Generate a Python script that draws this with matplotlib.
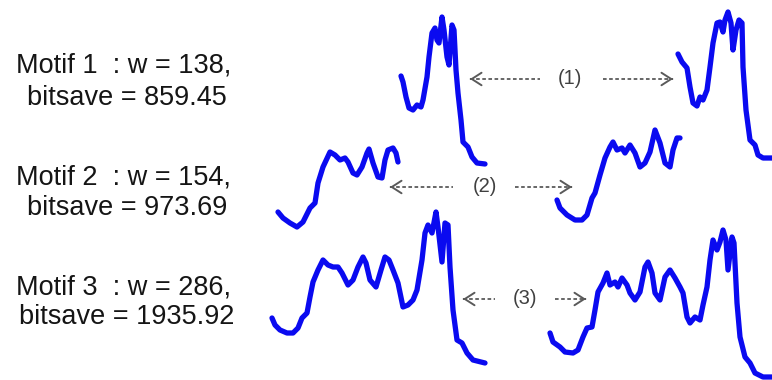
import matplotlib
matplotlib.use("Agg")
import matplotlib.pyplot as plt

# motif captions
labels = ["Motif 1  : w = 138,", "Motif 2  : w = 154,", "Motif 3  : w = 286,"]
bitsaves = ["bitsave = 859.45", "bitsave = 973.69", "bitsave = 1935.92"]
pair_tags = ["(1)", "(2)", "(3)"]

# each occurrence: t = sample position, v = height above its lowest point
m1a_t = [0, 2, 5, 8, 12, 16, 20, 22, 26, 28, 31, 34, 36, 38, 41, 43, 46, 48, 51, 53,
         55, 57, 60, 62, 67, 71, 76, 84]
m1a_v = [88, 82, 67, 56, 54, 59, 57, 64, 87, 107, 131, 136, 124, 121, 147, 134, 107, 99, 139, 134,
         94, 71, 44, 22, 17, 7, 1, 0]
m1b_t = [0, 4, 9, 12, 15, 19, 22, 25, 29, 32, 35, 39, 42, 45, 47, 50, 53, 55, 58, 61,
         64, 65, 68, 72, 77, 80, 85, 97]
m1b_v = [104, 96, 90, 71, 55, 52, 61, 58, 68, 91, 115, 135, 136, 126, 138, 146, 135, 108, 128, 138,
         135, 91, 48, 18, 13, 3, 0, 0]

m2a_t = [0, 5, 12, 19, 25, 32, 37, 40, 45, 52, 57, 62, 67, 70, 75, 79, 84, 89, 91, 95,
         100, 104, 107, 110, 115, 118, 120]
m2a_v = [15, 9, 4, 0, 5, 19, 24, 44, 60, 75, 72, 67, 69, 65, 54, 52, 60, 74, 78, 64,
         50, 49, 67, 77, 79, 74, 65]
m2b_t = [0, 3, 10, 18, 25, 30, 35, 38, 43, 48, 53, 56, 60, 65, 68, 73, 78, 83, 88, 93,
         98, 103, 108, 113, 116, 120, 123]
m2b_v = [20, 12, 5, 0, 0, 5, 22, 27, 45, 62, 73, 78, 70, 72, 67, 75, 67, 53, 57, 68,
         90, 77, 57, 53, 70, 82, 82]

m3a_t = [0, 3, 8, 15, 21, 26, 30, 35, 38, 41, 46, 51, 56, 61, 66, 70, 76, 81, 86, 91,
         94, 98, 104, 109, 113, 117, 121, 126, 131, 136, 141, 145, 150, 153, 156, 160, 164, 166, 170, 173,
         176, 178, 181, 185, 190, 195, 201, 213]
m3a_v = [45, 38, 33, 30, 30, 35, 45, 50, 66, 81, 93, 103, 98, 96, 96, 90, 78, 83, 96, 106,
         100, 83, 76, 93, 106, 103, 93, 80, 56, 58, 63, 73, 103, 130, 138, 130, 151, 136, 101, 140,
         138, 96, 53, 23, 20, 10, 3, 0]
m3b_t = [0, 3, 10, 15, 23, 28, 33, 37, 42, 45, 48, 53, 57, 60, 65, 68, 72, 77, 80, 85,
         90, 95, 98, 102, 105, 110, 115, 120, 125, 130, 133, 137, 140, 145, 150, 153, 157, 160, 163, 167,
         170, 173, 176, 178, 182, 184, 187, 190, 195, 200, 205, 213, 222]
m3b_v = [44, 35, 30, 25, 24, 27, 40, 49, 50, 67, 85, 94, 104, 92, 95, 90, 99, 92, 84, 77,
         85, 110, 115, 104, 84, 77, 100, 107, 99, 90, 84, 60, 54, 60, 57, 72, 90, 117, 137, 127,
         135, 147, 137, 107, 140, 134, 74, 40, 20, 14, 4, 0, 0]

curves = [(m1a_t, m1a_v), (m1b_t, m1b_v), (m2a_t, m2a_v),
          (m2b_t, m2b_v), (m3a_t, m3a_v), (m3b_t, m3b_v)]

# layout (pixel canvas)
origins = [(401, 164), (678, 158), (278, 227), (557, 220), (272, 363), (550, 377)]
caption_y = [(65, 98), (177, 208), (287, 317)]
# left tip, left dash end, tag centre, right dash start, right tip, y
arrows = [(470, 540, 570, 603, 673, 79),
          (390, 453, 485, 515, 572, 187),
          (463, 495, 525, 555, 586, 299)]

fig = plt.figure(figsize=(7.72, 3.80), dpi=100)
ax = fig.add_axes([0, 0, 1, 1])
ax.set_xlim(0, 772)
ax.set_ylim(380, 0)
ax.axis('off')

for (t, v), (x0, yb) in zip(curves, origins):
    ax.plot([x0 + a for a in t], [yb - b for b in v], color='#0a0af0', lw=3.8,
            solid_joinstyle='round', solid_capstyle='round')

for i in range(3):
    y1, y2 = caption_y[i]
    ax.text(124, y1, labels[i], ha='center', va='center', fontsize=19.5,
            family='Liberation Sans', color='#151515')
    ax.text(127, y2, bitsaves[i], ha='center', va='center', fontsize=19.5,
            family='Liberation Sans', color='#151515')

gray = '#5a5a5a'
for tag, (lt, le, tc, rs, rt, y) in zip(pair_tags, arrows):
    ax.plot([lt, le], [y, y], color=gray, lw=1.3, linestyle=(0, (2.0, 1.4)))
    ax.plot([rs, rt], [y, y], color=gray, lw=1.3, linestyle=(0, (2.0, 1.4)))
    ax.annotate('', xy=(lt, y), xytext=(lt + 1, y),
                arrowprops=dict(arrowstyle='->,head_length=0.7,head_width=0.45',
                                color=gray, lw=1.4))
    ax.annotate('', xy=(rt, y), xytext=(rt - 1, y),
                arrowprops=dict(arrowstyle='->,head_length=0.7,head_width=0.45',
                                color=gray, lw=1.4))
    ax.text(tc, y, tag, ha='center', va='center', fontsize=14.5,
            family='Liberation Sans', color='#404040')

fig.savefig('out.png', dpi=100)
